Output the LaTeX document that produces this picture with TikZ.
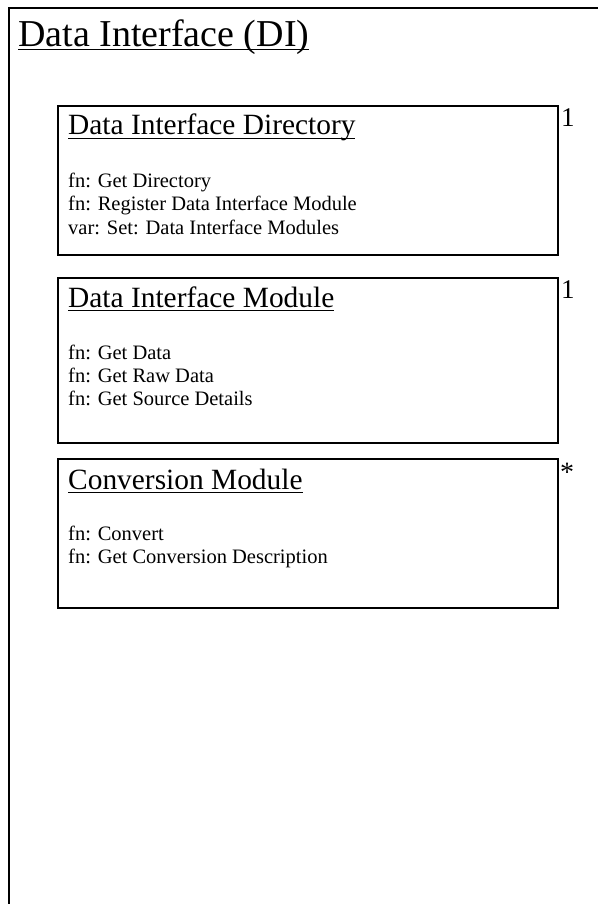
\documentclass[tikz,border=0pt]{standalone}
\usepackage{fontspec}
\setmainfont{Liberation Serif}
\newcommand\myul[2]{\setbox0\hbox{#2}\rlap{\rule[-#1]{\wd0}{0.05em}}\box0}
\begin{document}
\begin{tikzpicture}[x=1pt,y=-1pt,
  frame/.style={line width=2.6pt},
  umlbox/.style={draw, line width=2pt, rectangle, anchor=north west, minimum width=500pt, inner sep=0pt, outer sep=0pt},
  maintitle/.style={anchor=base west, inner sep=0pt, font=\fontsize{38}{44}\selectfont},
  boxtitle/.style={anchor=base west, inner sep=0pt, font=\fontsize{29.4}{34}\selectfont},
  member/.style={anchor=base west, inner sep=0pt, font=\fontsize{20.5}{24}\selectfont},
  mult/.style={anchor=base west, inner sep=0pt, font=\fontsize{27}{30}\selectfont},
  star/.style={anchor=base west, inner sep=0pt, font=\fontsize{28}{32}\selectfont}]
\useasboundingbox (0,0) rectangle (598,904);
\fill[white] (0,0) rectangle (598,904);
% outer package frame (only top and left edges visible)
\coordinate (fbl) at (9,904);
\coordinate (ftl) at (9,8);
\coordinate (ftr) at (598,8);
\draw[frame] (fbl) -- (ftl) -- (ftr);
\node[maintitle] (di) at (18,47) {\myul{0.09em}{Data Interface (DI)}};

% Data Interface Directory
\node[umlbox, minimum height=149pt] (dir) at (58,106) {};
\node[boxtitle] (dirt) at (68,135) {\myul{0.15em}{Data Interface Directory}};
\node[member] (dir1) at (68,188) {fn: Get Directory};
\node[member] (dir2) at (68,211) {fn: Register Data Interface Module};
\node[member] (dir3) at (68,234) {var: Set: Data Interface Modules};
\node[mult] (dirm) at (561,127) {1};

% Data Interface Module
\node[umlbox, minimum height=165pt] (mod) at (58,278) {};
\node[boxtitle] (modt) at (68,307) {\myul{0.15em}{Data Interface Module}};
\node[member] (mod1) at (68,359) {fn: Get Data};
\node[member] (mod2) at (68,382) {fn: Get Raw Data};
\node[member] (mod3) at (68,405) {fn: Get Source Details};
\node[mult] (modm) at (561,298) {1};

% Conversion Module
\node[umlbox, minimum height=149pt] (conv) at (58,459) {};
\node[boxtitle] (convt) at (68,489) {\myul{0.15em}{Conversion Module}};
\node[member] (conv1) at (68,540) {fn: Convert};
\node[member] (conv2) at (68,563) {fn: Get Conversion Description};
\node[star] (convm) at (560,481) {*};
\end{tikzpicture}
\end{document}
